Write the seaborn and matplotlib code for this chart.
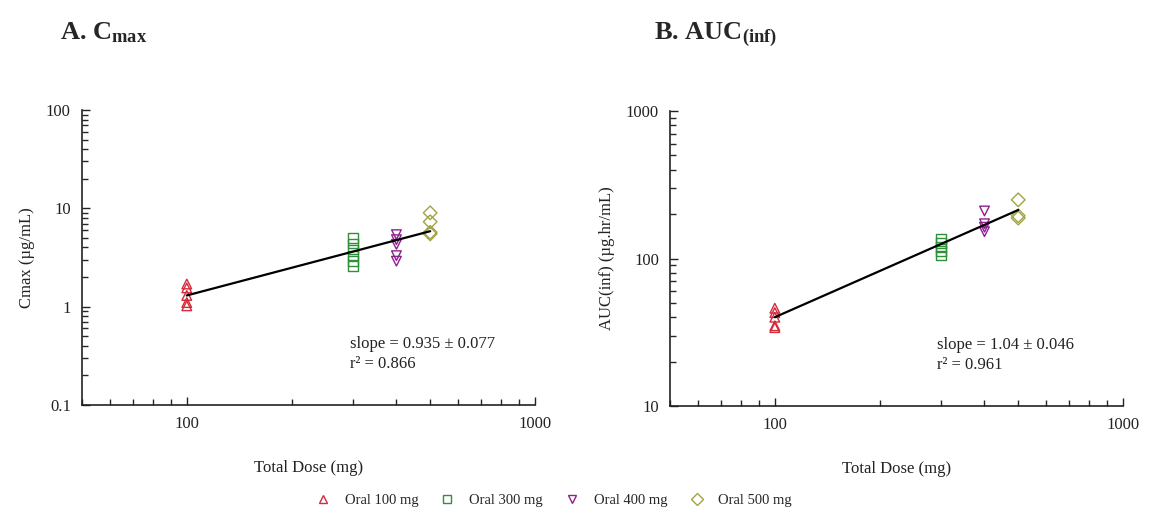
import numpy as np
import pandas as pd
import matplotlib
matplotlib.use("Agg")
import matplotlib.pyplot as plt
import matplotlib.ticker as mticker
from matplotlib.lines import Line2D
import seaborn as sns

# ---------------- data ----------------
groups = ["Oral 100 mg", "Oral 300 mg", "Oral 400 mg", "Oral 500 mg"]
doses = [100, 300, 400, 500]

cmax_100 = [1.70, 1.55, 1.30, 1.10, 1.02]
cmax_300 = [5.0, 4.4, 3.8, 3.3, 2.9, 2.6]
cmax_400 = [5.4, 4.8, 4.3, 3.3, 2.9]
cmax_500 = [9.0, 7.3, 5.7, 5.5]

auc_100 = [46, 43, 40, 35, 34]
auc_300 = [135, 128, 120, 112, 105]
auc_400 = [210, 172, 163, 152]
auc_500 = [250, 195, 188]

fit_a_slope, fit_a_at100 = 0.935, 1.30
fit_b_slope, fit_b_at100 = 1.04, 40.0
fit_dose_range = [100, 500]

ann_a = ["slope = 0.935 \u00b1 0.077", "r\u00b2 = 0.866"]
ann_b = ["slope = 1.04 \u00b1 0.046", "r\u00b2 = 0.961"]

colors = {"Oral 100 mg": "#D42A3A", "Oral 300 mg": "#2F8F3A",
          "Oral 400 mg": "#8E1F8E", "Oral 500 mg": "#A3A345"}
markers = {"Oral 100 mg": "^", "Oral 300 mg": "s",
           "Oral 400 mg": "v", "Oral 500 mg": "D"}


def make_df(lists):
    rows = []
    for g, d, vals in zip(groups, doses, lists):
        for v in vals:
            rows.append({"group": g, "dose": d, "value": v})
    return pd.DataFrame(rows)


df_a = make_df([cmax_100, cmax_300, cmax_400, cmax_500])
df_b = make_df([auc_100, auc_300, auc_400, auc_500])

# ---------------- style ----------------
sns.set_theme(style="ticks")
plt.rcParams["font.family"] = ["Liberation Serif", "DejaVu Serif"]
plt.rcParams["mathtext.fontset"] = "custom"
plt.rcParams["mathtext.rm"] = "Liberation Serif"
plt.rcParams["mathtext.bf"] = "Liberation Serif:bold"
plt.rcParams["mathtext.it"] = "Liberation Serif:italic"

fig = plt.figure(figsize=(11.56, 5.19), dpi=100)
ax_a = fig.add_axes([0.0709, 0.2197, 0.3919, 0.5683])
ax_b = fig.add_axes([0.5796, 0.2177, 0.3919, 0.5684])


def draw(ax, df, slope, at100, ylim, ylabel, ann, ann_x):
    sns.scatterplot(data=df, x="dose", y="value", hue="group", style="group",
                    palette=colors, markers=markers, s=48, linewidth=1.0,
                    legend=False, ax=ax, zorder=3)
    for coll in ax.collections:
        fc = coll.get_facecolors()
        coll.set_edgecolors(fc)
        coll.set_facecolors("none")
    xs = np.array(fit_dose_range, dtype=float)
    ys = at100 * (xs / 100.0) ** slope
    sns.lineplot(x=xs, y=ys, color="black", linewidth=1.6, ax=ax, zorder=4)
    ax.set_xscale("log")
    ax.set_yscale("log")
    ax.set_xlim(50, 1000)
    ax.set_ylim(*ylim)
    ax.xaxis.set_major_locator(mticker.FixedLocator([100, 1000]))
    ax.xaxis.set_major_formatter(mticker.FixedFormatter(["100", "1000"]))
    ax.xaxis.set_minor_locator(mticker.LogLocator(base=10, subs=np.arange(2, 10)))
    ax.xaxis.set_minor_formatter(mticker.NullFormatter())
    ax.yaxis.set_major_locator(mticker.LogLocator(base=10, numticks=10))
    ax.yaxis.set_major_formatter(mticker.FuncFormatter(lambda v, p: f"{v:g}"))
    ax.yaxis.set_minor_locator(mticker.LogLocator(base=10, subs=np.arange(2, 10), numticks=20))
    ax.yaxis.set_minor_formatter(mticker.NullFormatter())
    ax.tick_params(which="major", direction="in", length=6, width=1, labelsize=12,
                   colors="#222222", pad=8)
    ax.tick_params(which="minor", direction="in", length=4, width=1)
    sns.despine(ax=ax)
    for sp in ["left", "bottom"]:
        ax.spines[sp].set_linewidth(1.2)
        ax.spines[sp].set_color("#222222")
    ax.set_xlabel("Total Dose (mg)", fontsize=12, labelpad=20, color="#222222")
    ax.set_ylabel(ylabel, fontsize=12, labelpad=8, color="#222222")
    ax.text(ann_x, 0.192, ann[0], transform=ax.transAxes, fontsize=12,
            color="#222222")
    ax.text(ann_x, 0.127, ann[1], transform=ax.transAxes, fontsize=12,
            color="#222222")


draw(ax_a, df_a, fit_a_slope, fit_a_at100, (0.1, 100), "Cmax (\u00b5g/mL)", ann_a, 0.592)
draw(ax_b, df_b, fit_b_slope, fit_b_at100, (10, 1000), "AUC(inf) (\u00b5g.hr/mL)", ann_b, 0.59)

fig.text(0.052, 0.925, r"A. C$_{\mathbf{max}}$", fontsize=19, fontweight="bold")
fig.text(0.566, 0.925, r"B. AUC$_{\mathbf{(inf)}}$", fontsize=19, fontweight="bold")

handles = [Line2D([], [], linestyle="none", marker=markers[g], markersize=6,
                  markerfacecolor="none", markeredgecolor=colors[g],
                  markeredgewidth=1.0, label=g) for g in groups]
fig.legend(handles=handles, loc="center", bbox_to_anchor=(0.479, 0.035),
           ncol=4, frameon=False, fontsize=10.5, handletextpad=1.0,
           columnspacing=1.5, handlelength=1.0)

fig.savefig("out.png", dpi=100, facecolor="white")
